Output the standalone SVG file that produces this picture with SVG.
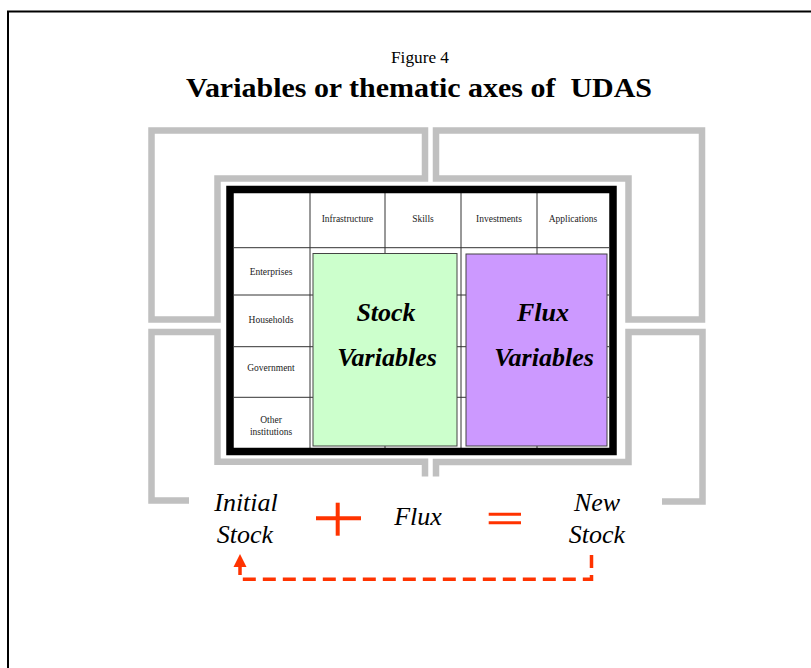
<svg xmlns="http://www.w3.org/2000/svg" width="811" height="668" viewBox="0 0 811 668">
  <style>
    .frame { fill: none; stroke: #c0c0c0; stroke-width: 6.5; stroke-linejoin: miter; }
    .grid { stroke: #333333; stroke-width: 1; }
    .serif { font-family: "Liberation Serif", "Times New Roman", "DejaVu Serif", serif; }
    .cell { font-size: 9.5px; fill: #222222; text-anchor: middle; }
    .big { font-size: 26px; font-weight: bold; font-style: italic; fill: #000000; text-anchor: middle; }
    .eq { font-size: 26px; font-style: italic; fill: #000000; text-anchor: middle; }
    .op { stroke: #ff3300; fill: none; }
  </style>

  <rect width="811" height="668" fill="#ffffff"/>
  <!-- page border -->
  <rect x="8" y="11.5" width="820" height="680" fill="none" stroke="#000000" stroke-width="2"/>

  <!-- title -->
  <g id="title" class="serif">
    <text x="391" y="63" font-size="16.5" textLength="58" lengthAdjust="spacingAndGlyphs">Figure 4</text>
    <text x="186" y="96.5" font-size="28" font-weight="bold" textLength="466" lengthAdjust="spacingAndGlyphs" xml:space="preserve">Variables or thematic axes of  UDAS</text>
  </g>

  <!-- grey bracket frames -->
  <g id="frames">
    <path class="frame" d="M151.5,130.5 H425 V178.5 H217.5 V319.5 H151.5 Z"/>
    <path class="frame" d="M436,130.5 H702 V319.5 H628.5 V178.5 H436 Z"/>
    <path class="frame" d="M189,500.5 H151.5 V332 H217.5 V461.8 H425 V476.5"/>
    <path class="frame" d="M662,501.5 H702.5 V332 H628.5 V462 H436 V476.5"/>
  </g>

  <!-- matrix -->
  <g id="matrix" class="serif">
    <rect x="234" y="193" width="375" height="255" fill="#ffffff"/>
    <g class="grid">
      <line x1="310" y1="193" x2="310" y2="448"/>
      <line x1="385" y1="193" x2="385" y2="448"/>
      <line x1="461" y1="193" x2="461" y2="448"/>
      <line x1="537" y1="193" x2="537" y2="448"/>
      <line x1="234" y1="247.7" x2="609" y2="247.7"/>
      <line x1="234" y1="295" x2="609" y2="295"/>
      <line x1="234" y1="346.7" x2="609" y2="346.7"/>
      <line x1="234" y1="397.3" x2="609" y2="397.3"/>
    </g>
    <text class="cell" x="347.5" y="222">Infrastructure</text>
    <text class="cell" x="423" y="222">Skills</text>
    <text class="cell" x="499" y="222">Investments</text>
    <text class="cell" x="573" y="222">Applications</text>
    <text class="cell" x="271" y="275">Enterprises</text>
    <text class="cell" x="271" y="323">Households</text>
    <text class="cell" x="271" y="371">Government</text>
    <text class="cell" x="271" y="423">Other</text>
    <text class="cell" x="271" y="435">institutions</text>
    <rect x="230" y="189.5" width="383" height="262" fill="none" stroke="#000000" stroke-width="7.5"/>
  </g>

  <g id="stock-variables" class="serif">
    <rect x="313" y="253.5" width="144" height="192.5" fill="#ccffcc" stroke="#444444" stroke-width="1"/>
    <text class="big" x="386" y="321">Stock</text>
    <text class="big" x="387" y="366">Variables</text>
  </g>

  <g id="flux-variables" class="serif">
    <rect x="466" y="254" width="141" height="192" fill="#cc99ff" stroke="#444444" stroke-width="1"/>
    <text class="big" x="543" y="321">Flux</text>
    <text class="big" x="544" y="366">Variables</text>
  </g>

  <!-- stock-flux equation -->
  <g id="initial-stock" class="serif">
    <text class="eq" x="246" y="511">Initial</text>
    <text class="eq" x="245" y="543">Stock</text>
  </g>
  <g id="plus">
    <line class="op" x1="316" y1="518.3" x2="361" y2="518.3" stroke-width="4"/>
    <line class="op" x1="337.7" y1="502.7" x2="337.7" y2="535.7" stroke-width="4"/>
  </g>
  <g id="flux" class="serif">
    <text class="eq" x="418" y="525">Flux</text>
  </g>
  <g id="equals">
    <line class="op" x1="488.7" y1="514.3" x2="521" y2="514.3" stroke-width="3"/>
    <line class="op" x1="488.7" y1="522.7" x2="521" y2="522.7" stroke-width="3"/>
  </g>
  <g id="new-stock" class="serif">
    <text class="eq" x="597" y="511">New</text>
    <text class="eq" x="597" y="543">Stock</text>
  </g>

  <!-- feedback connector -->
  <g id="connectors">
    <path class="op" d="M591.5,555 V579.3 H240 V566" stroke-width="3.5" stroke-dasharray="13,7"/>
    <path d="M240,554 L233.5,567 L246.5,567 Z" fill="#ff3300"/>
  </g>
</svg>
